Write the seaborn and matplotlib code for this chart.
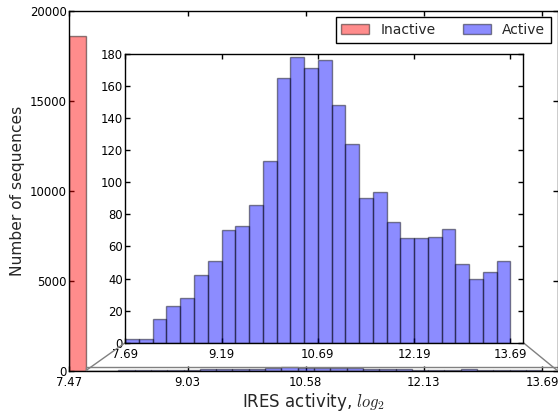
import numpy as np
import pandas as pd
import matplotlib
matplotlib.use("Agg")
import matplotlib.pyplot as plt
from matplotlib.colors import to_rgba
from matplotlib.patches import Patch
from mpl_toolkits.axes_grid1.inset_locator import mark_inset
import seaborn as sns

# Active sequences: counts per equal-width bin between 7.69 and 13.69 (log2 activity)
active_range = [7.69, 13.69]
active_counts = [2, 2, 15, 23, 28, 42, 51, 70, 73, 86, 113, 165, 178, 171, 176,
                 148, 124, 90, 94, 75, 65, 65, 66, 71, 49, 40, 44, 51]
# Inactive sequences: one bin at the background level
inactive_range = [7.47, 7.69]
inactive_count = [18600]

series_labels = ["Inactive", "Active"]
main_xticks = [7.47, 9.03, 10.58, 12.13, 13.69]
main_xticklabels = ["7.47", "9.03", "10.58", "12.13", "13.69"]
main_yticks = [0, 5000, 10000, 15000, 20000]
inset_xticks = [7.69, 9.19, 10.69, 12.19, 13.69]
inset_xticklabels = ["7.69", "9.19", "10.69", "12.19", "13.69"]
inset_yticks = [0, 20, 40, 60, 80, 100, 120, 140, 160, 180]

sns.set_style("ticks", {
    "axes.edgecolor": "black",
    "xtick.direction": "in",
    "ytick.direction": "in",
    "xtick.top": True,
    "ytick.right": True,
    "xtick.color": "black",
    "ytick.color": "black",
})
plt.rcParams["font.family"] = ["DejaVu Sans"]
plt.rcParams["mathtext.fontset"] = "cm"
plt.rcParams["axes.linewidth"] = 1.0

red_face = to_rgba("red", 0.45)
blue_face = to_rgba("blue", 0.45)
edge = (0, 0, 0, 0.45)

active_edges = list(np.linspace(active_range[0], active_range[1], len(active_counts) + 1))
active_df = pd.DataFrame({
    "activity": [(a + b) / 2 for a, b in zip(active_edges[:-1], active_edges[1:])],
    "count": active_counts,
})
inactive_edges = list(inactive_range)
inactive_df = pd.DataFrame({
    "activity": [(inactive_range[0] + inactive_range[1]) / 2],
    "count": inactive_count,
})

fig = plt.figure(figsize=(5.58, 4.13), dpi=100)
ax = fig.add_axes([0.12366, 0.10242, 0.87545, 0.87215])
ax_in = fig.add_axes([0.22437, 0.17022, 0.71344, 0.69903])

xmax = 13.89

# Main panel: inactive spike plus the (tiny) active distribution
sns.histplot(data=inactive_df, x="activity", weights="count", bins=inactive_edges, ax=ax,
             color="red", alpha=0.45, edgecolor=edge, linewidth=1)
sns.histplot(data=active_df, x="activity", weights="count", bins=active_edges, ax=ax,
             color="blue", alpha=0.45, edgecolor=edge, linewidth=1)
ax.set_xlim(inactive_range[0], xmax)
ax.set_ylim(0, 20000)
ax.set_xticks(main_xticks)
ax.set_xticklabels(main_xticklabels)
ax.set_yticks(main_yticks)
ax.set_xlabel("IRES activity, $log_2$", fontsize=12, labelpad=1)
ax.set_ylabel("Number of sequences", fontsize=11.2, labelpad=3.3)

# Inset: zoom on the active sequences
sns.histplot(data=active_df, x="activity", weights="count", bins=active_edges, ax=ax_in,
             color="blue", alpha=0.45, edgecolor=edge, linewidth=1)
ax_in.set_xlim(active_range[0], xmax)
ax_in.set_ylim(0, 180)
ax_in.set_xticks(inset_xticks)
ax_in.set_xticklabels(inset_xticklabels)
ax_in.set_yticks(inset_yticks)
ax_in.set_xlabel("")
ax_in.set_ylabel("")

for a in (ax, ax_in):
    a.tick_params(axis="both", which="major", direction="in", length=3.5, width=1,
                  labelsize=8.4, top=True, right=True)
    a.tick_params(axis="x", pad=4)
    a.tick_params(axis="y", pad=1.5)
    for s in a.spines.values():
        s.set_visible(True)
        s.set_color("black")
        s.set_linewidth(1)

mark_inset(ax, ax_in, loc1=3, loc2=4, fc="none", ec="0.5", lw=1)

handles = [Patch(facecolor=red_face, edgecolor=edge, linewidth=1),
           Patch(facecolor=blue_face, edgecolor=edge, linewidth=1)]
leg = ax.legend(handles, series_labels, loc="upper right", ncol=2, fontsize=10,
                frameon=True, fancybox=False, framealpha=1, edgecolor="black",
                handlelength=2.0, handletextpad=0.8, columnspacing=2.0,
                borderpad=0.4)
leg.get_frame().set_linewidth(1)

fig.savefig("out.png", dpi=100)
